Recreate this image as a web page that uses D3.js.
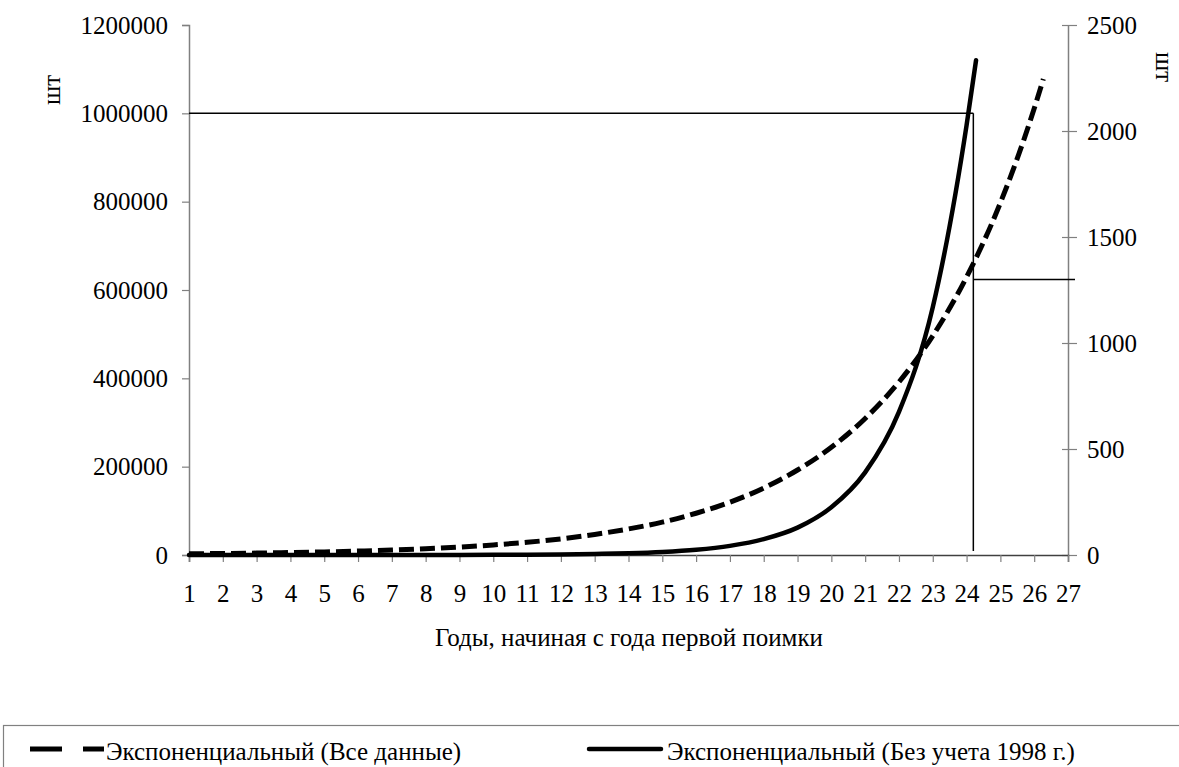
<!DOCTYPE html>
<html>
<head>
<meta charset="utf-8">
<script src="https://cdn.jsdelivr.net/npm/d3@7"></script>
<style>
	body { margin: 0; background: #fff; }
	text { font-family: "Liberation Serif", "Times New Roman", serif; fill: #000; }
</style>
</head>
<body>
<svg id="svg"></svg>
<script>
// годы и значения линий тренда
var solidYears = [1, 2, 3, 4, 5, 6, 7, 8, 9, 10, 11, 12, 13, 14, 15, 16, 17, 18, 19, 20, 21, 22, 23, 24, 24.28];
var solidValues = [3, 5, 9, 16, 28, 48, 84, 146, 250, 440, 760, 1300, 2300, 4000, 6900, 11900, 20700, 36000, 62000, 108000, 187000, 324000, 561000, 973000, 1120000];

var dashYears = [1, 2, 3, 4, 5, 6, 7, 8, 9, 10, 11, 12, 13, 14, 15, 16, 17, 18, 19, 20, 21, 22, 23, 24, 25, 26, 26.27];
var dashValues = [5.6, 7.1, 9, 11.5, 14.5, 18.5, 23.4, 29.6, 37.5, 47.5, 60, 76, 97, 123, 155, 197, 249, 316, 401, 508, 644, 816, 1034, 1311, 1661, 2106, 2245];

// подписи осей
var xTickLabels = ["1", "2", "3", "4", "5", "6", "7", "8", "9", "10", "11", "12", "13", "14", "15", "16", "17", "18", "19", "20", "21", "22", "23", "24", "25", "26", "27"];
var leftTicks = [0, 200000, 400000, 600000, 800000, 1000000, 1200000];
var rightTicks = [0, 500, 1000, 1500, 2000, 2500];

// вспомогательные линии: год, уровень слева, уровень справа
var markYear = 24.2;
var markLeft = 1000000;
var markRight = 1300;

var legendNames = ["Экспоненциальный (Все данные)", "Экспоненциальный (Без учета 1998 г.)"];

var W = 1179, H = 767;
var plot = {left: 189, right: 1068, top: 25, bottom: 555};
var fontSize = "25px";
var serif = "\"Liberation Serif\", \"Times New Roman\", serif";

var canevas = d3.select("#svg").attr("width", W).attr("height", H);

var x = d3.scaleLinear().domain([1, 27]).range([plot.left, plot.right]);
var yL = d3.scaleLinear().domain([0, 1200000]).range([plot.bottom, plot.top]);
var yR = d3.scaleLinear().domain([0, 2500]).range([plot.bottom, plot.top]);

function draw_line(x1, y1, x2, y2, color, width){
	canevas.append("line")
		.attr("x1", x1).attr("y1", y1)
		.attr("x2", x2).attr("y2", y2)
		.attr("stroke", color)
		.attr("stroke-width", width);
}

function draw_text(text, tx, ty, anchor, rotate){
	var t = canevas.append("text")
		.text(text)
		.attr("x", tx).attr("y", ty)
		.attr("text-anchor", anchor)
		.attr("dominant-baseline", "central")
		.style("font-family", serif)
		.style("font-size", fontSize);
	if (rotate) t.attr("transform", "rotate(" + rotate + "," + tx + "," + ty + ")");
	return t;
}

// левая ось
var axisL = canevas.append("g")
	.attr("transform", "translate(" + plot.left + ",0)")
	.call(d3.axisLeft(yL).tickValues(leftTicks).tickSize(7).tickPadding(14).tickFormat(d3.format("d")));

// правая ось (засечки пересекают ось)
var axisR = canevas.append("g")
	.attr("transform", "translate(" + plot.right + ",0)")
	.call(d3.axisRight(yR).tickValues(rightTicks).tickSize(0).tickPadding(19).tickFormat(d3.format("d")));
axisR.selectAll(".tick").append("line")
	.attr("x1", -6).attr("x2", 9)
	.attr("stroke", "#808080");

// ось X
var axisX = canevas.append("g")
	.attr("transform", "translate(0," + plot.bottom + ")")
	.call(d3.axisBottom(x).tickValues(d3.range(1, 28)).tickSize(7).tickPadding(22)
		.tickFormat(function(d, i){ return xTickLabels[i]; }));

[axisL, axisR, axisX].forEach(function(a){
	a.attr("font-family", serif).attr("font-size", fontSize);
	a.select(".domain").attr("stroke", "#808080").attr("stroke-width", 1.5);
	a.selectAll(".tick line").attr("stroke", "#808080").attr("stroke-width", 1.2);
	a.selectAll("text")
		.style("font-family", serif)
		.style("font-size", fontSize)
		.attr("fill", "#000");
});
axisX.select(".domain").attr("stroke", "#404040");

// вспомогательные линии
draw_line(plot.left, yL(markLeft), x(markYear), yL(markLeft), "#000", 1.5);
draw_line(x(markYear), yL(markLeft), x(markYear), plot.bottom - 4, "#000", 1.5);
draw_line(x(markYear), yR(markRight), plot.right + 7, yR(markRight), "#000", 1.5);

// кривые
var lineL = d3.line()
	.x(function(d){ return x(d[0]); })
	.y(function(d){ return yL(d[1]); })
	.curve(d3.curveMonotoneX);
var lineR = d3.line()
	.x(function(d){ return x(d[0]); })
	.y(function(d){ return yR(d[1]); })
	.curve(d3.curveMonotoneX);

canevas.append("path")
	.datum(d3.zip(dashYears, dashValues))
	.attr("d", lineR)
	.attr("fill", "none")
	.attr("stroke", "#000")
	.attr("stroke-width", 5)
	.attr("stroke-dasharray", "15,6");

canevas.append("path")
	.datum(d3.zip(solidYears, solidValues))
	.attr("d", lineL)
	.attr("fill", "none")
	.attr("stroke", "#000")
	.attr("stroke-width", 4.5)
	.attr("stroke-linecap", "round");

// подписи осей
draw_text("шт", 51, 90, "middle", -90);
draw_text("шт", 1164, 67, "middle", 90);
draw_text("Годы, начиная с года первой поимки", 629, 637, "middle");

// легенда
canevas.append("rect")
	.attr("x", 3.5).attr("y", 725.5)
	.attr("width", 1200).attr("height", 80)
	.attr("fill", "none")
	.attr("stroke", "#808080")
	.attr("stroke-width", 1.2);

var legY = 749;
draw_line(30, legY, 62, legY, "#000", 5);
draw_line(83, legY, 104, legY, "#000", 5);
draw_text(legendNames[0], 106, 751, "start");

canevas.append("line")
	.attr("x1", 589).attr("y1", legY).attr("x2", 661).attr("y2", legY)
	.attr("stroke", "#000").attr("stroke-width", 4.5).attr("stroke-linecap", "round");
draw_text(legendNames[1], 667, 751, "start");
</script>
</body>
</html>
